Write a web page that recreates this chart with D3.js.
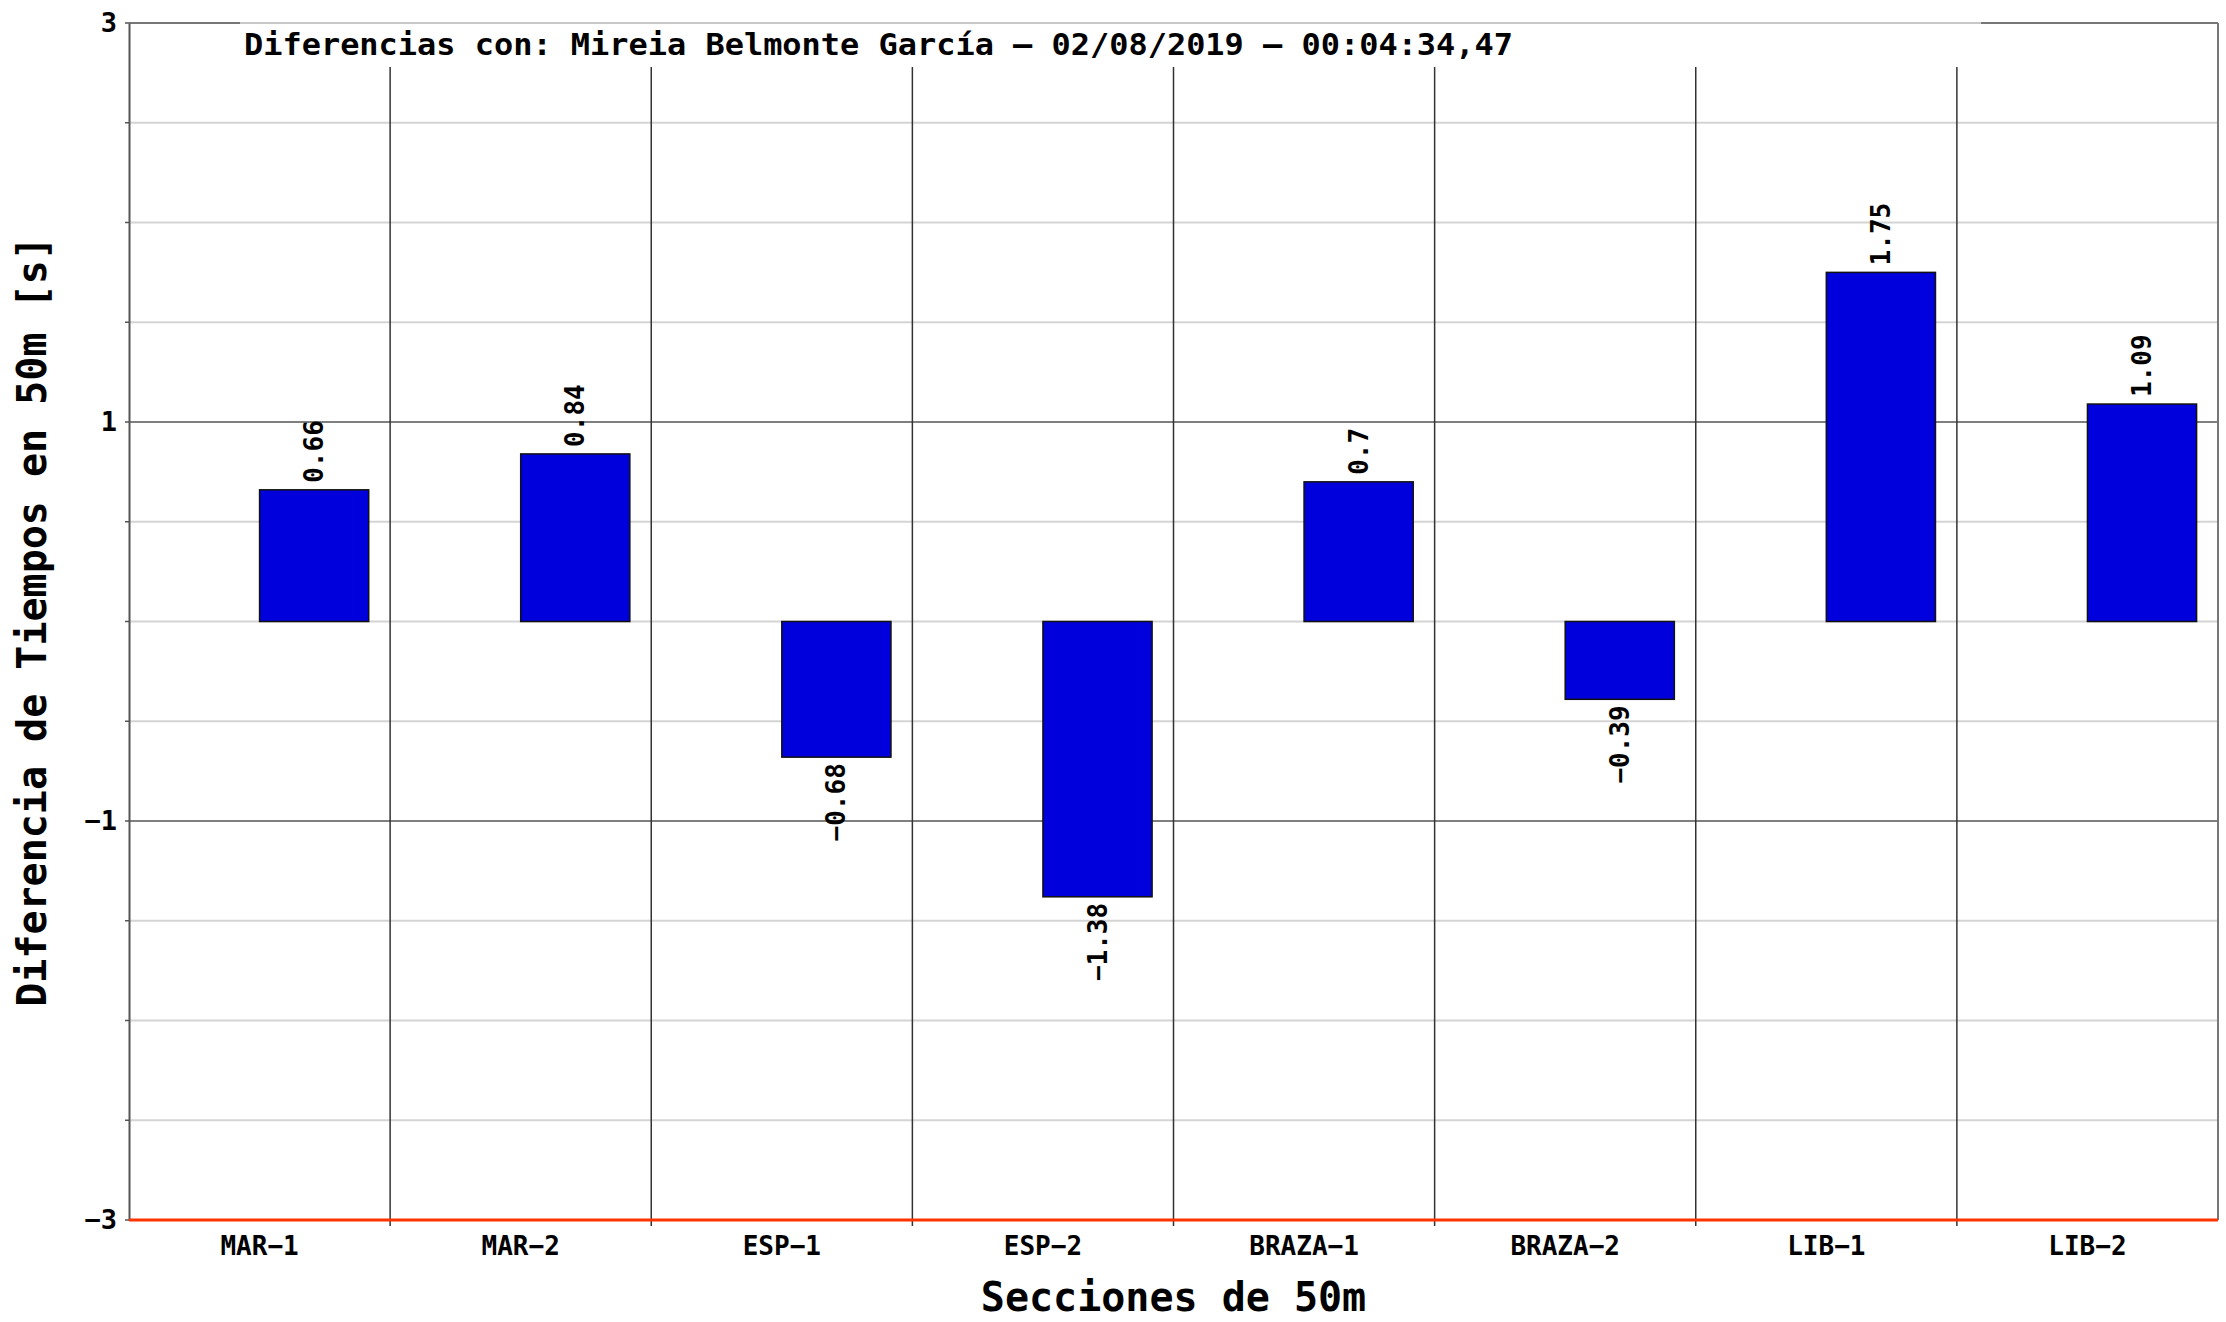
<!DOCTYPE html>
<html>
<head>
<meta charset="utf-8">
<script src="https://cdn.jsdelivr.net/npm/d3@7"></script>
<style>
  html, body { margin: 0; padding: 0; background: #fff; }
  svg { display: block; }
  text { font-family: "DejaVu Sans Mono", monospace; font-weight: bold; fill: #000; }
</style>
</head>
<body>
<svg id="chart" width="2226" height="1322"></svg>
<script>
const categories = ["MAR\u22121", "MAR\u22122", "ESP\u22121", "ESP\u22122", "BRAZA\u22121", "BRAZA\u22122", "LIB\u22121", "LIB\u22122"];
const values = [0.66, 0.84, -0.68, -1.38, 0.7, -0.39, 1.75, 1.09];
const yMajorTicks = [-3, -1, 1, 3];
const yMinorTicks = [-2.5, -2, -1.5, -0.5, 0, 0.5, 1.5, 2, 2.5];
const titleText = "Diferencias con: Mireia Belmonte García \u2013 02/08/2019 \u2013 00:04:34,47";
const xTitle = "Secciones de 50m";
const yTitle = "Diferencia de Tiempos en 50m [s]";

const W = 2226, H = 1322;
const m = { left: 129, right: 2218, top: 23, bottom: 1220 };
const svg = d3.select("#chart");

const x = d3.scaleBand().domain(categories).range([m.left, m.right]).paddingInner(0).paddingOuter(0);
const y = d3.scaleLinear().domain([-3, 3]).range([m.bottom, m.top]);
const bw = x.bandwidth();
const barW = bw * 0.418;

// minor gridlines
svg.append("g").selectAll("line").data(yMinorTicks).join("line")
  .attr("x1", m.left).attr("x2", m.right)
  .attr("y1", d => y(d)).attr("y2", d => y(d))
  .attr("stroke", "#d4d4d4").attr("stroke-width", 2);

// major gridlines
svg.append("g").selectAll("line").data(yMajorTicks.filter(d => d > -3 && d < 3)).join("line")
  .attr("x1", m.left).attr("x2", m.right)
  .attr("y1", d => y(d)).attr("y2", d => y(d))
  .attr("stroke", "#555").attr("stroke-width", 1.5);

// category separators
const seps = categories.slice(1).map(c => x(c));
svg.append("g").selectAll("line").data(seps).join("line")
  .attr("x1", d => d).attr("x2", d => d)
  .attr("y1", 67).attr("y2", m.bottom + 6)
  .attr("stroke", "#333").attr("stroke-width", 1.5);

// borders
svg.append("line").attr("x1", m.left).attr("x2", m.right).attr("y1", m.top).attr("y2", m.top)
  .attr("stroke", "#777").attr("stroke-width", 2);
svg.append("line").attr("x1", m.right).attr("x2", m.right).attr("y1", m.top).attr("y2", m.bottom)
  .attr("stroke", "#777").attr("stroke-width", 2);

// y axis
const yAxis = d3.axisLeft(y).tickValues(yMajorTicks).tickFormat(d3.format("d")).tickSize(0).tickPadding(12);
const gy = svg.append("g").attr("transform", `translate(${m.left},0)`).call(yAxis);
gy.select(".domain").attr("stroke", "#555").attr("stroke-width", 2);
gy.selectAll("text").attr("font-size", 27).attr("font-family", "DejaVu Sans Mono").attr("font-weight", "bold").attr("fill", "#000");
// minor tick marks on left axis
svg.append("g").selectAll("line").data(yMinorTicks.concat(yMajorTicks)).join("line")
  .attr("x1", m.left - 4).attr("x2", m.left)
  .attr("y1", d => y(d)).attr("y2", d => y(d))
  .attr("stroke", "#555").attr("stroke-width", 1.5);

// bars
svg.append("g").selectAll("rect").data(values).join("rect")
  .attr("x", (d, i) => x(categories[i]) + bw / 2)
  .attr("width", barW)
  .attr("y", d => y(Math.max(0, d)))
  .attr("height", d => Math.abs(y(d) - y(0)))
  .attr("fill", "#0000dd")
  .attr("stroke", "#111").attr("stroke-width", 1.5);

// value labels
const fmt = d3.format(".3~g");
svg.append("g").selectAll("text").data(values).join("text")
  .attr("transform", (d, i) => {
    const cx = x(categories[i]) + bw / 2 + barW / 2;
    const yy = d >= 0 ? y(d) - 7 : y(d) + 6;
    return `translate(${cx},${yy}) rotate(-90)`;
  })
  .attr("text-anchor", d => d >= 0 ? "start" : "end")
  .attr("dominant-baseline", "central")
  .attr("font-size", 26)
  .text(d => fmt(d));

// title box (semi transparent) and title
svg.append("rect").attr("x", 240).attr("y", 14).attr("width", 1741).attr("height", 53)
  .attr("fill", "#fff").attr("fill-opacity", 0.6);
svg.append("text").attr("x", 244).attr("y", 55)
  .attr("font-size", 30)
  .attr("textLength", 1269).attr("lengthAdjust", "spacingAndGlyphs")
  .text(titleText);

// bottom red axis line
svg.append("line").attr("x1", m.left).attr("x2", m.right).attr("y1", m.bottom).attr("y2", m.bottom)
  .attr("stroke", "#ff3300").attr("stroke-width", 3);

// x tick labels
const xAxis = d3.axisBottom(x).tickSize(0).tickPadding(0);
const gx = svg.append("g").attr("transform", `translate(0,${m.bottom})`).call(xAxis);
gx.select(".domain").remove();
gx.selectAll("text").attr("y", 26).attr("dy", "0.35em")
  .attr("font-size", 26).attr("font-family", "DejaVu Sans Mono").attr("font-weight", "bold").attr("fill", "#000");

// axis titles
svg.append("text").attr("x", (m.left + m.right) / 2).attr("y", 1311)
  .attr("text-anchor", "middle").attr("font-size", 40).text(xTitle);
svg.append("text").attr("transform", `translate(46,${(m.top + m.bottom) / 2}) rotate(-90)`)
  .attr("text-anchor", "middle").attr("font-size", 40).text(yTitle);
</script>
</body>
</html>
